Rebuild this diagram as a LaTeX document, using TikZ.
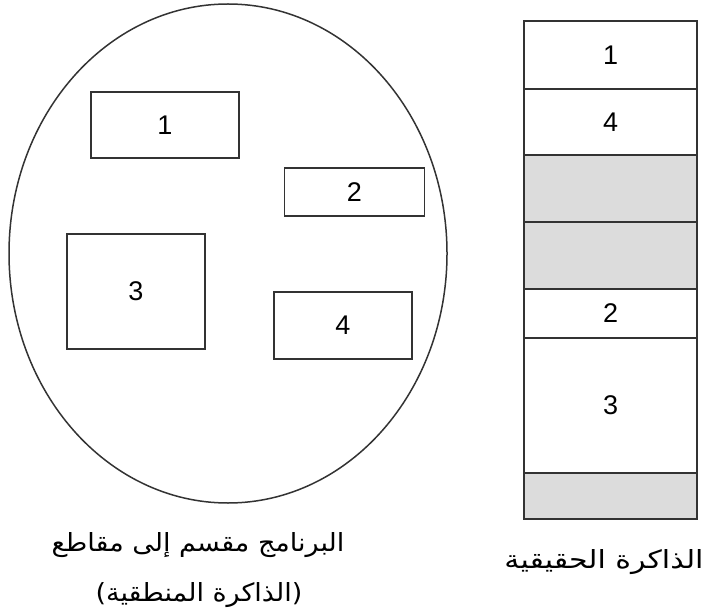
\documentclass[tikz,border=0pt]{standalone}
\usepackage{fontspec}
\usepackage{graphicx}
\setmainfont{Liberation Sans}
\newfontfamily\arabicfont[Script=Arabic]{DejaVu Sans}
\TeXXeTstate=1
\usetikzlibrary{shapes.geometric}
\definecolor{linecol}{HTML}{333333}
\definecolor{cellgray}{HTML}{DCDCDC}
\tikzset{
  seg/.style={draw=linecol, line width=1.5pt, rectangle, inner sep=0pt, font=\fontsize{27}{27}\selectfont},
  cell/.style={draw=linecol, line width=1.5pt, rectangle, inner sep=0pt, minimum width=173pt, font=\fontsize{27}{27}\selectfont},
  freecell/.style={cell, fill=cellgray},
  lbl/.style={inner sep=0pt, font=\arabicfont\fontsize{25}{25}\selectfont}
}
\begin{document}
\begin{tikzpicture}[x=1pt,y=-1pt]
\useasboundingbox (0,0) rectangle (708,612);
\node[ellipse, draw=linecol, line width=1.5pt, minimum width=438pt, minimum height=499pt, inner sep=0pt] (prog) at (228,253.5) {};
\node[seg, minimum width=148pt, minimum height=66pt] (s1) at (165,125) {1};
\node[seg, minimum width=140pt, minimum height=48pt] (s2) at (354.5,192) {2};
\node[seg, minimum width=138pt, minimum height=115pt] (s3) at (136,291.5) {3};
\node[seg, minimum width=138pt, minimum height=67pt] (s4) at (343,325.5) {4};
\node[cell, minimum height=68pt] (m1) at (610.5,55) {1};
\node[cell, minimum height=66pt] (m2) at (610.5,122) {4};
\node[freecell, minimum height=67pt] (m3) at (610.5,188.5) {};
\node[freecell, minimum height=67pt] (m4) at (610.5,255.5) {};
\node[cell, minimum height=49pt] (m5) at (610.5,313.5) {2};
\node[cell, minimum height=135pt] (m6) at (610.5,405.5) {3};
\node[freecell, minimum height=46pt] (m7) at (610.5,496) {};
\node[lbl] (t1) at (198,545) {\scalebox{1.08}[1]{\beginR البرنامج مقسم إلى مقاطع\endR}};
\node[lbl] (t2) at (199,595) {\scalebox{1.08}[1]{\beginR (الذاكرة المنطقية)\endR}};
\node[lbl] (t3) at (604,562) {\scalebox{1.2}[1]{\beginR الذاكرة الحقيقية\endR}};
\end{tikzpicture}
\end{document}
